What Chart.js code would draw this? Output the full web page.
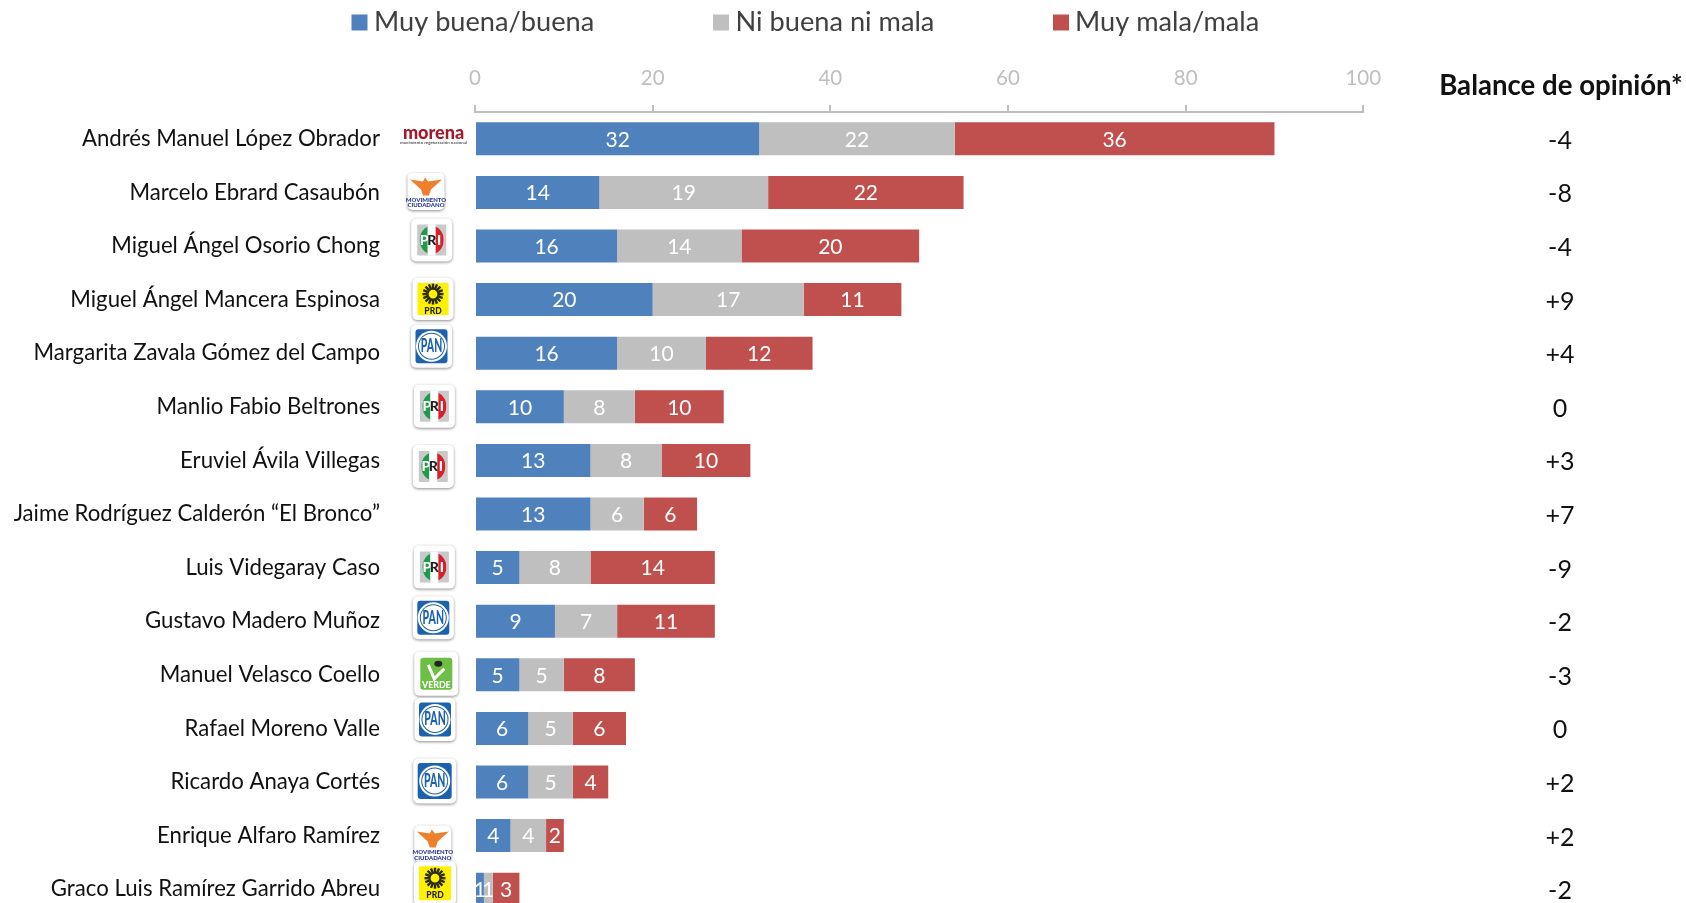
<!DOCTYPE html>
<html><head><meta charset="utf-8">
<style>html,body{margin:0;padding:0;background:#fff;overflow:hidden;width:1686px;height:903px}
#w{position:relative;width:1686px;height:930px}</style>
<script src="https://cdn.jsdelivr.net/npm/chart.js@4/dist/chart.umd.min.js"></script>
</head><body><div id="w"><canvas id="c" width="1686" height="930"></canvas></div>
<script>
const candidates=["Andrés Manuel López Obrador","Marcelo Ebrard Casaubón","Miguel Ángel Osorio Chong","Miguel Ángel Mancera Espinosa","Margarita Zavala Gómez del Campo","Manlio Fabio Beltrones","Eruviel Ávila Villegas","Jaime Rodríguez Calderón “El Bronco”","Luis Videgaray Caso","Gustavo Madero Muñoz","Manuel Velasco Coello","Rafael Moreno Valle","Ricardo Anaya Cortés","Enrique Alfaro Ramírez","Graco Luis Ramírez Garrido Abreu"];
const buena=[32,14,16,20,16,10,13,13,5,9,5,6,6,4,1];
const neutral=[22,19,14,17,10,8,8,6,8,7,5,5,5,4,1];
const mala=[36,22,20,11,12,10,10,6,14,11,8,6,4,2,3];
const balance=["-4","-8","-4","+9","+4","0","+3","+7","-9","-2","-3","0","+2","+2","-2"];
const partidos=["morena","MC","PRI","PRD","PAN","PRI","PRI","","PRI","PAN","VERDE","PAN","PAN","MC","PRD"];
const seriesNames=["Muy buena/buena","Ni buena ni mala","Muy mala/mala"];
const seriesColors=["#4F81BD","#BFBFBF","#C0504D"];
const balanceTitle="Balance de opinión*";

// logo placement: offset of the logo's centre from the row centre, and box size
const logoLayout=[[433.5,-4,56,30],[426,-1,37,37],[431.7,-6,41,43],[433,-0.5,41,42],[431.5,-7,41,43],[434.4,-0.5,41,43],[433.3,6,41,43],[0,0,0,0],[434.4,-0.5,41,43],[433.3,-3.5,41,43],[436.3,-1,44,44],[435,-9,41,43],[434.7,-1,43,45],[432.8,8,37,36],[435,-6,42,44]];
const F="Lato";

function box(ctx,x,y,w,h,r,fill){ctx.beginPath();ctx.roundRect(x,y,w,h,r);ctx.fillStyle=fill;ctx.fill();}
function frame(ctx,cx,cy,w,h){ctx.save();ctx.shadowColor="rgba(0,0,0,.45)";ctx.shadowBlur=3;ctx.shadowOffsetY=1;box(ctx,cx-w/2,cy-h/2,w,h,5,"#fff");ctx.restore();}
function txt(ctx,s,x,y,font,color){ctx.font=font;ctx.fillStyle=color;ctx.textAlign="center";ctx.textBaseline="middle";ctx.fillText(s,x,y);}
const logos={
 morena(ctx,cx,cy,w){txt(ctx,"morena",cx,cy-2,"900 18px "+F,"#A3182A");txt(ctx,"movimiento regeneración nacional",cx,cy+8,"bold 4.4px "+F,"#555");},
 MC(ctx,cx,cy,w,h){frame(ctx,cx,cy,w,h);ctx.fillStyle="#EE7F2D";ctx.beginPath();
  ctx.moveTo(cx-16,cy-12);ctx.lineTo(cx-3,cy-10);ctx.lineTo(cx-1,cy-14);ctx.lineTo(cx+2,cy-10);ctx.lineTo(cx+16,cy-12);ctx.lineTo(cx+5,cy-2);ctx.lineTo(cx+3,cy+4);ctx.lineTo(cx-3,cy+4);ctx.lineTo(cx-5,cy-2);ctx.closePath();ctx.fill();
  txt(ctx,"MOVIMIENTO",cx,cy+8.5,"900 6px "+F,"#27368F");txt(ctx,"CIUDADANO",cx,cy+14,"900 6px "+F,"#27368F");},
 PRI(ctx,cx,cy,w,h){frame(ctx,cx,cy,w,h);const L=cx-w/2+6,R=cx+w/2-6,T=cy-h/2+6,B=cy+h/2-6;
  box(ctx,L,T,R-L,B-T,1,"#C9C9C9");ctx.fillStyle="#fff";ctx.fillRect(cx-4,T,8,B-T);
  ctx.save();ctx.beginPath();ctx.ellipse(cx,cy,12,14,0,0,7);ctx.clip();ctx.fillStyle="#1E9A4B";ctx.fillRect(cx-12,cy-14,8,28);ctx.fillStyle="#fff";ctx.fillRect(cx-4,cy-14,8,28);ctx.fillStyle="#D9202A";ctx.fillRect(cx+4,cy-14,8,28);ctx.restore();
  txt(ctx,"P",cx-7.5,cy,"900 14px "+F,"#fff");txt(ctx,"R",cx,cy,"900 14px "+F,"#222");txt(ctx,"I",cx+7.5,cy,"900 14px "+F,"#fff");},
 PRD(ctx,cx,cy,w,h){frame(ctx,cx,cy,w,h);const s=w-10;box(ctx,cx-s/2,cy-h/2+5,s,h-10,1,"#FFF200");
  const sy=cy-5;ctx.strokeStyle="#2b2b10";ctx.lineWidth=2.4;for(let a=0;a<16;a++){const t=a*Math.PI/8;ctx.beginPath();ctx.moveTo(cx+Math.cos(t)*6,sy+Math.sin(t)*6);ctx.lineTo(cx+Math.cos(t)*10.5,sy+Math.sin(t)*10.5);ctx.stroke();}
  ctx.lineWidth=2.2;ctx.beginPath();ctx.arc(cx,sy,5.5,0,7);ctx.stroke();txt(ctx,"PRD",cx,cy+12.5,"900 8.5px "+F,"#222");},
 PAN(ctx,cx,cy,w,h){frame(ctx,cx,cy,w,h);const s=w-9;box(ctx,cx-s/2,cy-(h-9)/2,s,h-9,3,"#1D62AE");
  ctx.fillStyle="#fff";ctx.beginPath();ctx.ellipse(cx,cy,15.5,15.5,0,0,7);ctx.fill();ctx.fillStyle="#1D62AE";ctx.beginPath();ctx.ellipse(cx,cy,13.5,13.5,0,0,7);ctx.fill();ctx.fillStyle="#fff";ctx.beginPath();ctx.ellipse(cx,cy,12.5,12.5,0,0,7);ctx.fill();
  ctx.save();ctx.translate(cx,cy);ctx.scale(.72,1.25);txt(ctx,"PAN",0,0,"900 14.5px "+F,"#1D62AE");ctx.restore();},
 VERDE(ctx,cx,cy,w,h){frame(ctx,cx,cy,w,h);box(ctx,cx-16,cy-16,32,32,3,"#6CBE45");
  ctx.strokeStyle="#fff";ctx.lineWidth=3;ctx.beginPath();ctx.moveTo(cx-8,cy-9);ctx.lineTo(cx-2,cy+5);ctx.lineTo(cx+8,cy-5);ctx.stroke();
  ctx.fillStyle="#222";ctx.beginPath();ctx.ellipse(cx+2,cy-10,4,3,0,0,7);ctx.fill();txt(ctx,"VERDE",cx,cy+11,"900 8.8px "+F,"#fff");}
};

const decor={id:"decor",
 afterDatasetsDraw(chart){const {ctx,scales:{y}}=chart;ctx.save();
  chart.data.datasets.forEach((ds,i)=>{chart.getDatasetMeta(i).data.forEach((bar,j)=>{
    const m=(bar.x+bar.base)/2;txt(ctx,String(ds.data[j]),m,bar.y+1,"21px "+F,"#fff");});});
  partidos.forEach((p,i)=>{if(!p)return;const l=logoLayout[i];ctx.save();logos[p](ctx,l[0],y.getPixelForValue(i)+l[1],l[2],l[3]);ctx.restore();});
  txt(ctx,balanceTitle,1561,86,"bold 27.6px "+F,"#111");
  balance.forEach((b,i)=>txt(ctx,b,1560,y.getPixelForValue(i)+2,"25px "+F,"#111"));
  const lx=[351.5,713,1053],tx=[374,735.5,1075];
  seriesNames.forEach((n,i)=>{ctx.fillStyle=seriesColors[i];ctx.fillRect(lx[i],14.5,16,16);ctx.font="27.2px "+F;ctx.textAlign="left";ctx.textBaseline="middle";ctx.fillStyle="#404040";ctx.fillText(n,tx[i],22.5);});
  ctx.restore();}
};

new Chart(document.getElementById("c"),{type:"bar",
 data:{labels:candidates,datasets:[
  {label:seriesNames[0],data:buena,backgroundColor:seriesColors[0]},
  {label:seriesNames[1],data:neutral,backgroundColor:seriesColors[1]},
  {label:seriesNames[2],data:mala,backgroundColor:seriesColors[2]}]},
 options:{indexAxis:"y",responsive:false,animation:false,
  layout:{padding:{left:0,top:0,right:1686-1363.3,bottom:14}},
  datasets:{bar:{categoryPercentage:1,barPercentage:0.615}},
  plugins:{legend:{display:false},tooltip:{enabled:false},title:{display:false}},
  scales:{
   x:{position:"top",stacked:true,min:0,max:100,
      afterFit(s){s.height=112;s.paddingLeft=0;s.paddingRight=0;},
      border:{color:"#BFBFBF",width:2},
      grid:{drawOnChartArea:false,drawTicks:true,tickLength:7,color:"#BFBFBF",lineWidth:2},
      ticks:{stepSize:20,maxRotation:0,color:"#BFBFBF",padding:14,font:{family:F,size:20.5}}},
   y:{stacked:true,afterFit(s){s.width=475;s.paddingTop=0;s.paddingBottom=0;},
      border:{display:false},grid:{display:false,drawTicks:false},
      ticks:{autoSkip:false,color:"#111",padding:95,font:{family:F,size:22.2}}}
  }},
 plugins:[decor]});
</script></body></html>
